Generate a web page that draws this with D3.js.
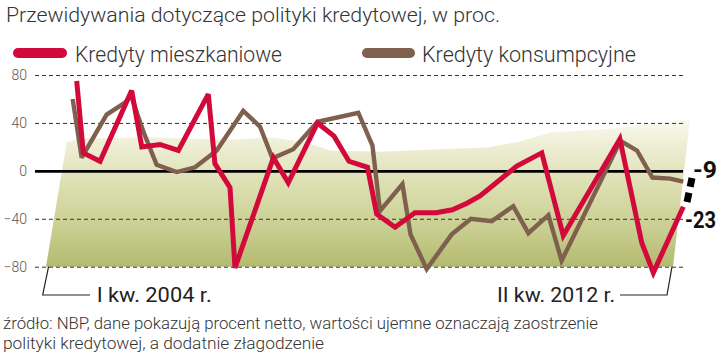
<!DOCTYPE html>
<html>
<head>
<meta charset="utf-8">
<script src="https://cdn.jsdelivr.net/npm/d3@7"></script>
<style>
  html, body { margin: 0; padding: 0; background: #fff; }
  svg { display: block; }
  text { font-family: Roboto, "Noto Sans", "DejaVu Sans", sans-serif; }
</style>
</head>
<body>
<svg id="chart" width="720" height="354"></svg>
<script>
// ---------- DATA ----------
const title = "Przewidywania dotyczące polityki kredytowej, w proc.";
const seriesNames = ["Kredyty mieszkaniowe", "Kredyty konsumpcyjne"];
// quarter labels: I kw. 2004 ... II kw. 2012
const quarters = [];
for (let yr = 2004; yr <= 2012; yr++) {
  ["I", "II", "III", "IV"].forEach(q => { if (!(yr === 2012 && (q === "III" || q === "IV"))) quarters.push(q + " kw. " + yr); });
}
// vertices of the drawn lines: position (in quarters from I kw. 2004) and value
const mieszkanioweQ = [0, 0.36, 1.27, 2.99, 3.54, 4.53, 5.53, 7.16, 7.52, 8.34, 8.61, 10.7, 11.51, 13.1, 14.0, 14.81, 15.82, 16.32, 17.32, 18.4, 19.55, 20.44, 21.23, 21.94, 22.66, 23.94, 25.3, 26.47, 29.55, 30.74, 31.37, 33];
const mieszkanioweV = [75, 15, 8, 67, 20, 22, 17, 64, 6, -14, -81, 11, -10, 40, 29, 8, 3, -36, -47, -35, -35, -32.5, -27, -21, -12, 4, 15, -54, 26.5, -60, -85, -30];
const konsumpcyjneQ = [-0.22, 0.27, 1.63, 2.63, 2.95, 3.62, 4.35, 5.44, 6.44, 7.62, 9.06, 9.97, 10.65, 11.78, 13.1, 15.32, 16.09, 16.5, 17.72, 18.16, 19.04, 20.4, 21.45, 22.58, 23.75, 24.57, 25.66, 26.38, 29.58, 30.48, 31.32, 32.28, 33];
const konsumpcyjneV = [60, 11, 47, 57, 63, 33, 5, -1, 3, 17, 50, 37, 10.5, 18, 41, 48.5, 21, -33.5, -11, -53, -82, -53, -40, -42, -29.5, -52, -37, -75, 25, 17, -5.6, -6.5, -9];
const yTicks = [80, 40, 0, -40, -80];
const endLabels = ["-9", "-23"];
const footnote = ["źródło: NBP, dane pokazują procent netto, wartości ujemne oznaczają zaostrzenie",
                  "polityki kredytowej, a dodatnie złagodzenie"];
const colors = ["#d20a3c", "#7f5f4e"];

// ---------- CHART ----------
const svg = d3.select("#chart");
const x = d3.scaleLinear().domain([0, quarters.length - 1]).range([76.7, 683.3]);
const y = d3.scaleLinear().domain([-80, 80]).range([266.7, 75]);

function fitText(sel, w) { sel.attr("textLength", w).attr("lengthAdjust", "spacingAndGlyphs"); return sel; }

// background gradient shape
const defs = svg.append("defs");
const grad = defs.append("linearGradient").attr("id", "bg").attr("gradientUnits", "userSpaceOnUse")
  .attr("x1", 0).attr("x2", 0).attr("y1", y(44)).attr("y2", y(-80));
[[0, "#fbfaf2"], [0.15, "#f0f0da"], [0.45, "#dcdfb0"], [0.75, "#c8ce90"], [1, "#b3ba6e"]]
  .forEach(([o, c]) => grad.append("stop").attr("offset", o).attr("stop-color", c));
const bgShape = [[-1.67, -80], [-0.54, 24], [0.18, 27], [3.99, 28], [8.34, 26], [10.5, 28], [12.4, 24], [13.8, 17],
  [16.5, 16], [19.8, 18], [22.3, 19.5], [24, 24], [25.75, 32], [28.85, 35], [33.37, 43.5], [32.44, -80]];
svg.append("path")
  .attr("d", d3.line().x(d => x(d[0])).y(d => y(d[1]))(bgShape) + "Z")
  .attr("fill", "url(#bg)");

// grid / axis
const axis = svg.append("g").attr("transform", "translate(35,0)")
  .call(d3.axisLeft(y).tickValues(yTicks).tickSize(-648).tickPadding(8).tickFormat(d3.format("d")));
axis.select(".domain").remove();
axis.selectAll(".tick line")
  .attr("stroke", d => d === 0 ? "#000" : "#333")
  .attr("stroke-width", d => d === 0 ? 2.6 : 1)
  .attr("stroke-dasharray", d => d === 0 ? null : "4,3");
axis.selectAll(".tick text").attr("fill", "#555").attr("font-size", 14).attr("font-family", "Roboto, sans-serif").attr("font-weight", 300);

// lines
const lineGen = d3.line().x(d => x(d[0])).y(d => y(d[1]));
const series = [
  { q: konsumpcyjneQ, v: konsumpcyjneV, color: colors[1], w: 4.4 },
  { q: mieszkanioweQ, v: mieszkanioweV, color: colors[0], w: 5 }
];
series.forEach(s => {
  svg.append("path")
    .attr("d", lineGen(s.q.map((q, i) => [q, s.v[i]])))
    .attr("fill", "none").attr("stroke", s.color).attr("stroke-width", s.w)
    .attr("stroke-linejoin", "miter").attr("stroke-miterlimit", 3);
});

// title
fitText(svg.append("text").attr("x", 6).attr("y", 21.5).attr("font-size", 21).attr("fill", "#333").attr("font-weight", 300)
  .text(title), 494);

// legend
const legendX = [[18, 62, 75, 207], [367, 410, 422, 214]];
seriesNames.forEach((n, i) => {
  const [a, b, tx, tw] = legendX[i];
  svg.append("line").attr("x1", a).attr("x2", b).attr("y1", 53).attr("y2", 53)
    .attr("stroke", colors[i]).attr("stroke-width", 10).attr("stroke-linecap", "round");
  fitText(svg.append("text").attr("x", tx).attr("y", 62).attr("font-size", 22).attr("fill", "#333").attr("font-weight", 300)
    .text(n), tw);
});

// start / end annotations
const ann = svg.append("g").attr("stroke", "#222").attr("stroke-width", 1.2).attr("fill", "none");
ann.append("path").attr("d", `M${x(-1.53)},${y(-80)} L42.7,295 L90,295`);
ann.append("path").attr("d", `M${x(32.44) - 1},${y(-80)} L667,295 L620,295`);
fitText(svg.append("text").attr("x", 96.7).attr("y", 302).attr("font-size", 21).attr("fill", "#222").attr("font-weight", 400)
  .text(quarters[0] + " r."), 115);
fitText(svg.append("text").attr("x", 497).attr("y", 302).attr("font-size", 21).attr("fill", "#222").attr("font-weight", 400)
  .text(quarters[quarters.length - 1] + " r."), 118);

// end value labels + connector
svg.append("line").attr("x1", 692).attr("y1", 178).attr("x2", 687).attr("y2", 202)
  .attr("stroke", "#000").attr("stroke-width", 7).attr("stroke-dasharray", "9,6,10");
fitText(svg.append("text").attr("x", 693).attr("y", 178.3).attr("font-size", 23).attr("font-weight", 700).attr("fill", "#111")
  .text(endLabels[0]), 24);
fitText(svg.append("text").attr("x", 685).attr("y", 228.3).attr("font-size", 23).attr("font-weight", 700).attr("fill", "#111")
  .text(endLabels[1]), 31);

// footnote
fitText(svg.append("text").attr("x", 3).attr("y", 329).attr("font-size", 16).attr("fill", "#333").attr("font-weight", 300)
  .text(footnote[0]), 595);
fitText(svg.append("text").attr("x", 3).attr("y", 349).attr("font-size", 16).attr("fill", "#333").attr("font-weight", 300)
  .text(footnote[1]), 321);
</script>
</body>
</html>
